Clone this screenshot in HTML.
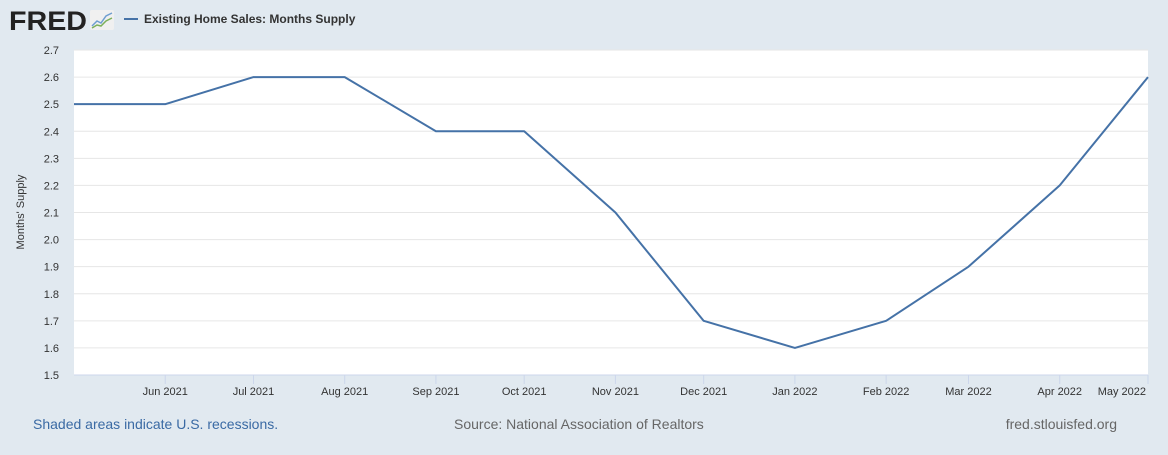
<!DOCTYPE html>
<html><head><meta charset="utf-8"><style>
html,body{margin:0;padding:0;background:#e1e9f0;}
body{width:1168px;height:450px;overflow:hidden;font-family:"Liberation Sans",sans-serif;}
</style></head><body>
<svg id="c" width="1168" height="450" xmlns="http://www.w3.org/2000/svg">
<rect width="1168" height="450" fill="#e1e9f0"/>
<g>
<text x="9" y="30" font-size="27" font-weight="900" fill="#222" textLength="78" lengthAdjust="spacingAndGlyphs" font-family="Liberation Sans,sans-serif">FRED</text>
<rect x="90" y="10" width="24" height="20" fill="#f0f0f0" rx="2"/>
<polyline points="92,26 97,21 101,23 106,16 112,13" fill="none" stroke="#6f9ed0" stroke-width="1.5"/>
<polyline points="92,28 97,25 101,26 106,21 112,18" fill="none" stroke="#7cb05a" stroke-width="1.5"/>
</g>
<line x1="124" y1="19" x2="138" y2="19" stroke="#4572a7" stroke-width="2"/>
<text x="144" y="23" font-size="12" font-weight="bold" fill="#333">Existing Home Sales: Months Supply</text>
<rect x="74" y="50" width="1074" height="325" fill="#fff"/>
<g id="grid"></g><g id="yt"></g><g id="xt"></g><g id="series"></g>
<text transform="translate(24,212) rotate(-90)" text-anchor="middle" font-size="11" fill="#333">Months' Supply</text>
<text x="33" y="429" font-size="14" fill="#3a6aa4">Shaded areas indicate U.S. recessions.</text>
<text x="454" y="429" font-size="14" fill="#666">Source: National Association of Realtors</text>
<text x="1117" y="429" text-anchor="end" font-size="14" fill="#666">fred.stlouisfed.org</text>
</svg>
<script>
const dates=["2021-05-01","2021-06-01","2021-07-01","2021-08-01","2021-09-01","2021-10-01","2021-11-01","2021-12-01","2022-01-01","2022-02-01","2022-03-01","2022-04-01","2022-05-01"];
const values=[2.5,2.5,2.6,2.6,2.4,2.4,2.1,1.7,1.6,1.7,1.9,2.2,2.6];
const yTicks=[1.5,1.6,1.7,1.8,1.9,2.0,2.1,2.2,2.3,2.4,2.5,2.6,2.7];
const xTickLabels=["Jun 2021","Jul 2021","Aug 2021","Sep 2021","Oct 2021","Nov 2021","Dec 2021","Jan 2022","Feb 2022","Mar 2022","Apr 2022","May 2022"];
const xTickDates=["2021-06-01","2021-07-01","2021-08-01","2021-09-01","2021-10-01","2021-11-01","2021-12-01","2022-01-01","2022-02-01","2022-03-01","2022-04-01","2022-05-01"];
const NS="http://www.w3.org/2000/svg";
const L=74,R=1148,T=50,B=375,ymin=1.5,ymax=2.7;
const t0=Date.parse(dates[0]),t1=Date.parse(dates[dates.length-1]);
const x=d=>L+(Date.parse(d)-t0)/(t1-t0)*(R-L);
const y=v=>B-(v-ymin)/(ymax-ymin)*(B-T);
function mk(tag,attrs,parent){const e=document.createElementNS(NS,tag);for(const k in attrs)e.setAttribute(k,attrs[k]);document.getElementById(parent).appendChild(e);return e;}
yTicks.forEach(v=>{
 const g=mk('line',{x1:L,x2:R,y1:y(v),y2:y(v),stroke:v===ymin?'#ccd6eb':'#e6e6e6','stroke-width':1},'grid');
 
 
 const t=mk('text',{x:59,y:y(v)+4,'text-anchor':'end','font-size':11,fill:'#333'},'yt');
 t.textContent=v.toFixed(1);
 
 
});
xTickDates.forEach((d,i)=>{
 const tk=mk('line',{x1:x(d),x2:x(d),y1:B,y2:B+9,stroke:'#ccd6eb'},'xt');
 
 
 const anchor=i===xTickDates.length-1?'end':'middle';
 const tx=i===xTickDates.length-1?x(d)-2:x(d);
 const t=mk('text',{x:tx,y:395,'text-anchor':anchor,'font-size':11,fill:'#333'},'xt');
 t.textContent=xTickLabels[i];
 
 
});
const p=mk('polyline',{points:dates.map((d,i)=>x(d)+','+y(values[i])).join(' '),fill:'none',stroke:'#4572a7','stroke-width':2,'stroke-linejoin':'round'},'series');


</script>
</body></html>
